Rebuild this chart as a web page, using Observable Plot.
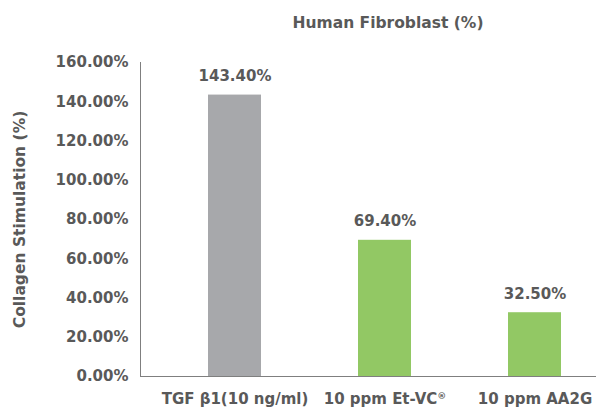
<!DOCTYPE html>
<html><head><meta charset="utf-8">
<script src="https://cdn.jsdelivr.net/npm/d3@7"></script>
<script src="https://cdn.jsdelivr.net/npm/@observablehq/plot@0.6"></script>
<style>
body{margin:0;background:#fff;font-family:"DejaVu Sans",sans-serif;}
#wrap{position:relative;width:608px;height:410px;}
#title{position:absolute;left:388px;top:13px;transform:translateX(-50%);white-space:nowrap;font-weight:bold;font-size:15.5px;line-height:20px;color:#595959;}
</style></head>
<body><div id="wrap"><div id="chart"></div><div id="title">Human Fibroblast (%)</div></div>
<script>
const categories = ["TGF β1(10 ng/ml)", "10 ppm Et-VC®", "10 ppm AA2G"];
const values = [143.4, 69.4, 32.5];
const labels = ["143.40%", "69.40%", "32.50%"];
const colors = ["#A7A8AB", "#92C864", "#92C864"];
const yTicks = [0, 20, 40, 60, 80, 100, 120, 140, 160];

const data = categories.map((c, i) => ({cat: c, v: values[i], label: labels[i], color: colors[i]}));

const chart = Plot.plot({
  width: 608, height: 410,
  marginTop: 62, marginBottom: 34, marginLeft: 140, marginRight: 12,
  style: {fontFamily: "'DejaVu Sans', sans-serif", fontSize: "15px", fontWeight: "bold", color: "#595959", background: "#fff"},
  x: {domain: categories, paddingInner: 0.647, paddingOuter: 0.343, align: 0.66, label: null, tickSize: 0, tickPadding: 17},
  y: {domain: [0, 160], ticks: yTicks, tickFormat: d => d.toFixed(2) + "%", tickSize: 0, tickPadding: 12,
      label: "Collagen Stimulation (%)", labelAnchor: "center", labelArrow: false, labelOffset: 127},
  marks: [
    Plot.barY(data, {x: "cat", y: "v", fill: "color"}),
    Plot.ruleY([0], {stroke: "#7f7f7f"}),
    Plot.frame({anchor: "left", stroke: "#7f7f7f"}),
    Plot.text(data, {x: "cat", y: "v", text: "label", dy: -19, fill: "#595959", fontSize: 15, fontWeight: "bold"})
  ]
});
// superscript the registered mark
d3.select(chart).selectAll("text").each(function() {
  const t = d3.select(this);
  if (t.selectAll("tspan").size() === 0 && t.text().includes("®")) {
    const parts = t.text().split("®");
    t.text(parts[0]);
    t.append("tspan").attr("font-size", "9px").attr("dy", "-0.6em").text("®");
  }
});
d3.select(chart).selectAll("text tspan").each(function() {
  const t = d3.select(this);
  if (t.text().includes("®") && t.text().length > 1) {
    const parts = t.text().split("®");
    t.text(parts[0]);
    d3.select(this.parentNode).append("tspan").attr("font-size", "9px").attr("dy", "-0.6em").text("®");
  }
});
const ylab = d3.select(chart).selectAll("text").filter(function(){ return d3.select(this).text() === "Collagen Stimulation (%)"; });
ylab.style("font-size", "15.5px");
document.getElementById("chart").appendChild(chart);
</script></body></html>
